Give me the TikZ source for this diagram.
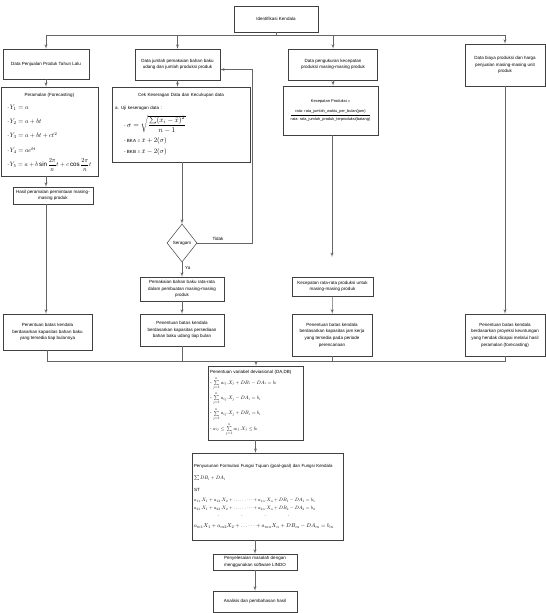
\documentclass[tikz,border=0pt]{standalone}
\usepackage{amsmath}
\usepackage{graphicx}
\usepackage{fontspec}
\setmainfont{Liberation Sans}
\usetikzlibrary{arrows, positioning, shapes.geometric}

\newcommand{\kecil}{\fontsize{4.5}{6.6}\selectfont}
% rumus ditulis 10pt lalu diperkecil
\newcommand{\mat}[2]{\scalebox{#1}{\normalsize$#2$}}

\begin{document}
\begin{tikzpicture}[x=1pt, y=-1pt, font=\kecil]

	\tikzstyle{block} = [rectangle, draw=black!75, line width=0.5pt, align=center, inner sep=1pt]
	\tikzstyle{line} = [draw=black!60, line width=0.5pt, -latex']
	\tikzstyle{plain} = [draw=black!60, line width=0.5pt]
	\tikzstyle{decision} = [diamond, draw=black!75, line width=0.5pt, inner sep=0pt, minimum width=30pt, minimum height=38pt]

	\useasboundingbox (0,0) rectangle (546,613);

	% baris atas
	\node [block, minimum width=84pt, minimum height=26pt] (ident) at (276,19) {Identifikasi Kendala};
	\node [block, minimum width=86pt, minimum height=30pt] (jual) at (46,64) {Data Penjualan Produk Tahun Lalu};
	\node [block, minimum width=85pt, minimum height=31pt] (bahan) at (177.5,64.5) {Data jumlah pemakaian bahan baku\\ udang dan jumlah produksi produk};
	\node [block, minimum width=89pt, minimum height=31pt] (ukur) at (333,64.5) {Data pengukuran kecepatan\\ produksi masing-masing produk};
	\node [block, minimum width=80pt, minimum height=42pt] (biaya) at (505,65) {Data biaya produksi dan harga\\ penjualan masing-masing unit\\ produk};

	% kolom 1
	\node [block, minimum width=97pt, minimum height=89pt] (ramal) at (49.5,131.5) {%
		\begin{tabular}{@{}l@{\,}l@{}}
		\multicolumn{2}{c}{Peramalan (Forecasting)}\\[6pt]
		- & \mat{0.64}{Y_1 = a}\\[7.5pt]
		- & \mat{0.64}{Y_2 = a + bt}\\[7.5pt]
		- & \mat{0.64}{Y_3 = a + bt + ct^2}\\[7.5pt]
		- & \mat{0.64}{Y_4 = ae^{bt}}\\[4pt]
		- & \mat{0.62}{Y_5 = a + b\sin\dfrac{2\pi}{n}t + c\cos\dfrac{2\pi}{n}t}
		\end{tabular}};
	\node [block, minimum width=80pt, minimum height=17pt] (hasil) at (53,195.5) {Hasil peramalan permintaan masing-\\ masing produk};
	\node [block, minimum width=89pt, minimum height=36pt] (pen1) at (47.5,332) {Penentuan batas kendala\\ berdasarkan kapasitas bahan baku\\ yang tersedia tiap bulannya};

	% kolom 2
	\node [block, minimum width=138pt, minimum height=75pt, text width=132pt, align=left, inner sep=2pt] (cek) at (181,124.5) {%
		{\centering Cek Keseragan Data dan Kecukupan data\par}\vspace{6pt}
		a. Uji keseragan data :\par\vspace{4pt}
		\hspace*{9pt}- \mat{0.72}{\sigma = \sqrt{\dfrac{\sum (x_i - \bar{x})^2}{n-1}}}\par\vspace{4pt}
		\hspace*{9pt}- BKA = \mat{0.68}{\bar{x} + 2(\sigma)}\par\vspace{3pt}
		\hspace*{9pt}- BKB = \mat{0.68}{\bar{x} - 2(\sigma)}};
	\node [decision] (seragam) at (182,243) {Seragam};
	\node (tidak) at (218,239) {Tidak};
	\node [anchor=west, inner sep=1pt] (ya) at (184,268) {Ya};
	\node [block, minimum width=84pt, minimum height=24pt] (rata) at (182,289) {Pemakaian bahan baku rata-rata\\ dalam pembuatan masing-masing\\ produk};
	\node [block, minimum width=84pt, minimum height=32pt] (pen2) at (182,330) {Penentuan batas kendala\\ berdasarkan kapasitas persediaan\\ bahan baku udang tiap bulan};

	% kolom 3
	\node [block, minimum width=95pt, minimum height=49pt] (kec) at (330.5,110.5) {%
		{\fontsize{4}{5}\selectfont Kecepatan Produksi =}\\[5pt]
		{\fontsize{3.9}{5}\selectfont\begin{tabular}{@{}c@{}}
		rata- rata\_jumlah\_waktu\_per\_bulan(jam)\\[1pt] \hline
		\rule{0pt}{5pt}rata- rata\_jumlah\_produk\_terproduksi(batang)
		\end{tabular}}};
	\node [block, minimum width=81pt, minimum height=19pt, inner sep=0.5pt] (kecrata) at (332.5,286.5) {Kecepatan rata-rata produksi untuk\\ masing-masing produk};
	\node [block, minimum width=80pt, minimum height=42pt] (pen3) at (332,335) {Penentuan batas kendala\\ berdasarkan kapasitas jam kerja\\ yang tersedia pada periode\\ perencanaan};

	% kolom 4
	\node [block, minimum width=80pt, minimum height=42pt] (pen4) at (505,335) {Penentuan batas kendala\\ berdasarkan proyeksi keuntungan\\ yang hendak dicapai melalui hasil\\ peramalan (forecasting)};

	% baris bawah
	\node [block, minimum width=95pt, minimum height=74pt, text width=91pt, align=left, inner sep=2pt] (da) at (255.5,403) {%
		Penentuan variabel deviasional (DA,DB)\par\vspace{2pt}
		- \mat{0.5}{\sum\limits_{j=1}^{n} a_{ij}.X_j + DB_i - DA_i = b_i}\par\vspace{2pt}
		- \mat{0.5}{\sum\limits_{j=1}^{n} a_{ij}.X_j - DA_i = b_i}\par\vspace{2pt}
		- \mat{0.5}{\sum\limits_{j=1}^{n} a_{ij}.X_j + DB_i = b_i}\par\vspace{2pt}
		- \mat{0.5}{a_{ij} \le \sum\limits_{j=1}^{n} a_{ij}.X_j \le b_i}};
	\node [block, minimum width=151pt, minimum height=87pt, text width=147pt, align=left, inner sep=2pt] (goal) at (267.5,496.5) {%
		{\fontsize{4.4}{6}\selectfont Penyusunan Formulasi Fungsi Tujuan (goal-goal) dan Fungsi Kendala}\par\vspace{5pt}
		\mat{0.5}{\sum DB_i + DA_i}\par\vspace{5pt}
		ST\par\vspace{4pt}
		\mat{0.48}{a_{11}.X_1 + a_{12}.X_2 + \dots\dots\dots + a_{1n}.X_n + DB_1 - DA_1 = b_1}\par\vspace{1pt}
		\mat{0.48}{a_{21}.X_1 + a_{22}.X_2 + \dots\dots\dots + a_{2n}.X_n + DB_2 - DA_2 = b_2}\par\vspace{1pt}
		\hspace*{24pt}.\hspace{22pt}.\hspace{22pt}.\hspace{22pt}.\par\vspace{4pt}
		\mat{0.56}{a_{m1}X_1 + a_{m2}X_2 + \dots\dots + a_{mn}X_n + DB_m - DA_m = b_m}};
	\node [block, minimum width=84pt, minimum height=16pt] (selesai) at (255,562) {Penyelesaian masalah dengan\\ menggunakan software LINDO};
	\node [block, minimum width=84pt, minimum height=21pt] (analisis) at (255,601.5) {Analisis dan pembahasan hasil};

	% garis
	\coordinate (atas) at (276,35);
	\coordinate (balik) at (252,243);
	\coordinate (ujung) at (332,257);
	\coordinate (kumpul) at (256,361);

	\draw [plain] (ident) -- (atas);
	\draw [plain] (jual |- atas) -- (biaya |- atas);
	\path [line] (jual |- atas) -- (jual);
	\path [line] (bahan |- atas) -- (bahan);
	\path [line] (ukur |- atas) -- (ukur);
	\path [line] (biaya |- atas) -- (biaya);

	\path [line] (jual) -- (jual |- ramal.north);
	\path [line] (ramal.south -| jual) -- (hasil.north -| jual);
	\path [line] (hasil.south -| jual) -- (pen1.north -| jual);

	\path [line] (bahan) -- (bahan |- cek.north);
	\path [line] (cek.south -| seragam) -- (seragam);
	\path [line] (seragam) -- (balik) |- ([yshift=-5pt]bahan.east);
	\path [line] (seragam) -- (rata);
	\path [line] (rata) -- (pen2);

	\path [line] (ukur) -- (ukur |- kec.north);
	\path [line] (kec.south -| ujung) -- (ujung);
	\path [line] (kecrata) -- (pen3);

	\path [line] (biaya) -- (pen4);

	\draw [plain] (pen1) -- (pen1 |- kumpul) -- (pen4 |- kumpul) -- (pen4);
	\draw [plain] (pen2) -- (pen2 |- kumpul);
	\draw [plain] (pen3) -- (pen3 |- kumpul);
	\path [line] (kumpul) -- (da.north -| kumpul);
	\path [line] (da) -- (da |- goal.north);
	\path [line] (goal.south -| selesai) -- (selesai);
	\path [line] (selesai) -- (analisis);
\end{tikzpicture}
\end{document}
